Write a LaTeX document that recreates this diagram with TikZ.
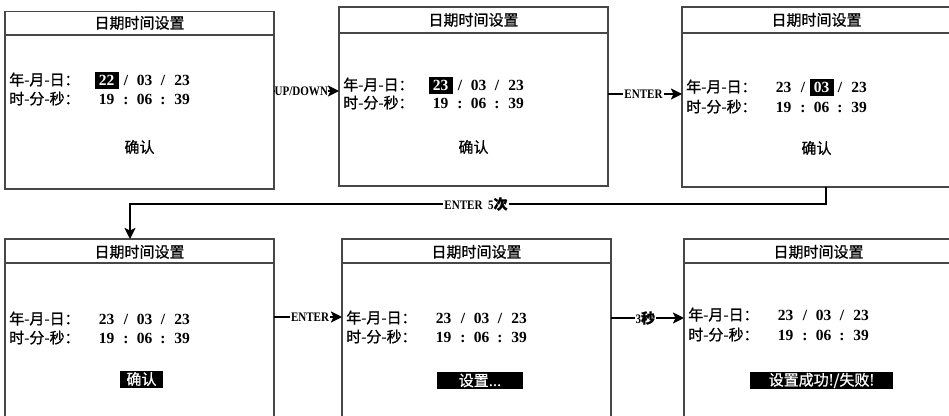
\documentclass[tikz,border=0pt]{standalone}
\usepackage{fontspec}
\setmainfont{Liberation Serif}
\newfontfamily\cjk[FakeBold=0.9]{Noto Sans CJK SC}
\newfontfamily\labfont[FakeStretch=0.85]{Liberation Serif}
\usetikzlibrary{arrows.meta,calc}

\tikzset{
  panel/.style={draw=black!72, line width=1.2pt, minimum width=269pt, inner sep=0pt, outer sep=0pt, anchor=north west},
  panelline/.style={draw=black!72, line width=1.2pt},
  ttl/.style={font=\cjk\fontsize{15}{15}\selectfont, inner sep=0pt, anchor=base},
  rowlab/.style={font=\cjk\fontsize{15}{15}\selectfont, inner sep=0pt, anchor=base west},
  fld/.style={font=\fontsize{15.5}{15.5}\selectfont\bfseries, inner sep=0pt, anchor=base},
  hl/.style={fill=black, text=white, minimum width=24pt, minimum height=17pt},
  hl1-1/.style=hl, hl1-2/.style={}, hl1-3/.style={},
  hl2-1/.style={}, hl2-2/.style=hl, hl2-3/.style={},
  hl0-1/.style={}, hl0-2/.style={}, hl0-3/.style={},
  cjkt/.style={font=\cjk\fontsize{15}{15}\selectfont, inner sep=0pt},
  btn/.style={font=\cjk\fontsize{15}{15}\selectfont, inner sep=0pt, fill=black, text=white, minimum height=17pt},
  conn/.style={draw=black, line width=2.2pt, -{Stealth[length=11pt,width=11pt,inset=2.5pt]}},
  lab/.style={fill=white, inner xsep=1pt, inner ysep=1pt, font=\labfont\fontsize{13}{13}\selectfont\bfseries},
}

% #1 name, #2 left, #3 top, #4 height, #5 header y, #6 title y
\newcommand\scr[6]{%
  \node[panel, minimum height=#4pt] (#1) at (#2,#3) {};
  \draw[panelline] (#1.west |- 0,#5) -- (#1.east |- 0,#5);
  \node[ttl] (#1-t) at ($(#1.north |- 0,#6)+(0,5.5)$) {日期时间设置};
}

% #1 prefix, #2 panel left x, #3 row y, #4 label, #5-#7 fields, #8 separator, #9 highlight index
\newcommand\dtrow[9]{%
  \node[rowlab] (#1-l) at (#2+4,#3+5.3) {#4};
  \node[fld, hl#9-1] (#1-a) at (#2+101.5,#3+5.3) {#5};
  \node[fld] (#1-s1) at (#2+121,#3+5.3) {#8};
  \node[fld, hl#9-2] (#1-b) at (#2+139.5,#3+5.3) {#6};
  \node[fld] (#1-s2) at (#2+158,#3+5.3) {#8};
  \node[fld, hl#9-3] (#1-c) at (#2+177,#3+5.3) {#7};
}

\begin{document}
\begin{tikzpicture}[x=1pt,y=-1pt]
\useasboundingbox (0,0) rectangle (949,415);
\fill[white] (0,0) rectangle (949,415);
\clip (0,0) rectangle (949,415);

% ---- top row ----
\scr{p1}{5}{11.5}{177.5}{35}{23}
\dtrow{p1r1}{5}{80}{年-月-日：}{22}{03}{23}{/}{1}
\dtrow{p1r2}{5}{99}{时-分-秒：}{19}{06}{39}{:}{0}
\node[cjkt] (p1-ok) at (139.5,147) {确认};

\scr{p2}{339}{7}{179}{33}{20}
\dtrow{p2r1}{339}{85}{年-月-日：}{23}{03}{23}{/}{1}
\dtrow{p2r2}{339}{103}{时-分-秒：}{19}{06}{39}{:}{0}
\node[cjkt] (p2-ok) at (473.5,147) {确认};

\scr{p3}{682}{7}{180}{33}{20}
\dtrow{p3r1}{682}{87}{年-月-日：}{23}{03}{23}{/}{2}
\dtrow{p3r2}{682}{107}{时-分-秒：}{19}{06}{39}{:}{0}
\node[cjkt] (p3-ok) at (816.5,148) {确认};

% ---- bottom row ----
\scr{p4}{5}{239}{200}{263}{252}
\dtrow{p4r1}{5}{319}{年-月-日：}{23}{03}{23}{/}{0}
\dtrow{p4r2}{5}{338}{时-分-秒：}{19}{06}{39}{:}{0}
\node[btn, minimum width=43pt] (p4-ok) at (141.5,379) {确认};

\scr{p5}{342}{239}{200}{263}{252}
\dtrow{p5r1}{342}{318}{年-月-日：}{23}{03}{23}{/}{0}
\dtrow{p5r2}{342}{337}{时-分-秒：}{19}{06}{39}{:}{0}
\node[btn, minimum width=86pt] (p5-ok) at (480,380.5) {设置...};

\scr{p6}{684}{239}{200}{263}{252}
\dtrow{p6r1}{684}{315}{年-月-日：}{23}{03}{23}{/}{0}
\dtrow{p6r2}{684}{335}{时-分-秒：}{19}{06}{39}{:}{0}
\node[btn, minimum width=143pt] (p6-ok) at (821.5,380.5) {设置成功!/失败!};

% ---- connectors ----
\draw[conn] (p1.east |- 0,91) -- node[lab, pos=0.42, inner xsep=0pt] (l1) {UP/DOWN} (p2.west |- 0,91);
\draw[conn] (p2.east |- 0,94) -- node[lab, pos=0.48] (l2) {ENTER} (p3.west |- 0,94);

\coordinate (k1) at (826,204);
\coordinate (k2) at (130,204);
\draw[conn] (p3.south -| k1) -- (k1) -- (k2) -- (p4.north -| k2);
\node[lab] (l3) at (476,204) {ENTER\ \ 5{\cjk\fontsize{14}{14}\selectfont 次}};

\draw[conn] (p4.east |- 0,317) -- node[lab, pos=0.53] (l4) {ENTER} (p5.west |- 0,317);
\draw[conn] (p5.east |- 0,318) -- node[lab, pos=0.47] (l5) {3{\cjk\fontsize{14}{14}\selectfont 秒}} (p6.west |- 0,318);
\end{tikzpicture}
\end{document}
